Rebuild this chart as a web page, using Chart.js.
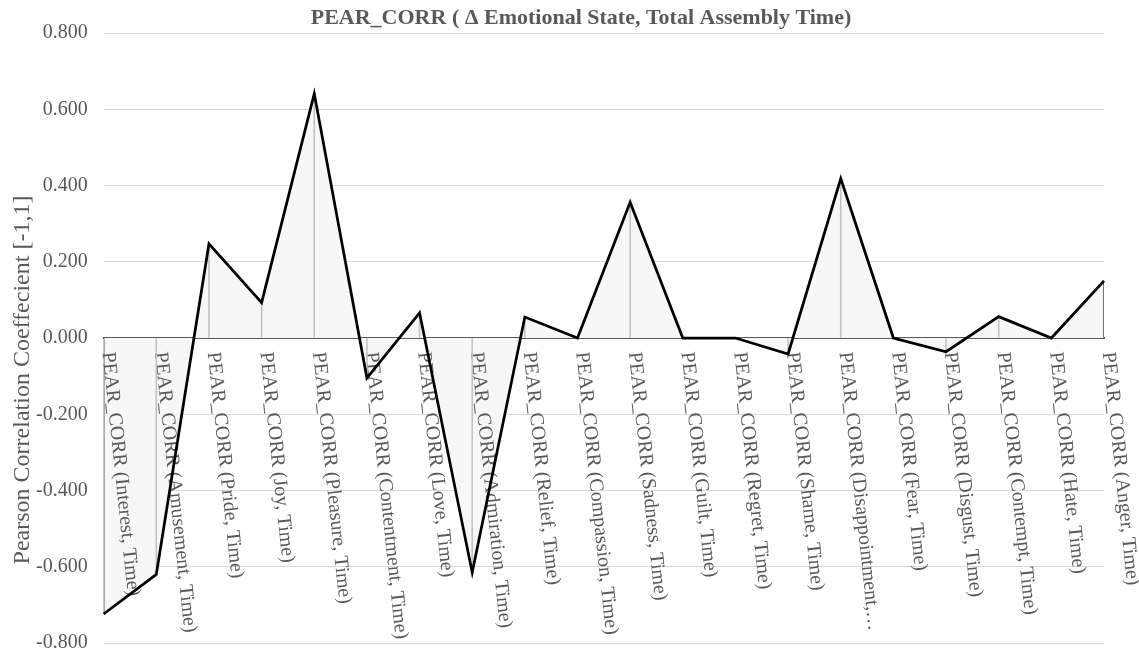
<!DOCTYPE html>
<html>
<head>
<meta charset="utf-8">
<script src="https://cdn.jsdelivr.net/npm/chart.js@4/dist/chart.umd.min.js"></script>
<style>
  html, body { margin: 0; padding: 0; background: #ffffff; }
  #wrap { width: 1139px; height: 654px; position: relative; }
</style>
</head>
<body>
<div id="wrap"><canvas id="c" width="1139" height="654"></canvas></div>
<script>
// ---- data ----
const chartTitle = 'PEAR_CORR ( \u0394 Emotional State, Total Assembly Time)';
const yAxisTitle = 'Pearson Correlation Coeffecient [-1,1]';
const categories = [
  'PEAR_CORR (Interest, Time)',
  'PEAR_CORR (Amusement, Time)',
  'PEAR_CORR (Pride, Time)',
  'PEAR_CORR (Joy, Time)',
  'PEAR_CORR (Pleasure, Time)',
  'PEAR_CORR (Contentment, Time)',
  'PEAR_CORR (Love, Time)',
  'PEAR_CORR (Admiration, Time)',
  'PEAR_CORR (Relief, Time)',
  'PEAR_CORR (Compassion, Time)',
  'PEAR_CORR (Sadness, Time)',
  'PEAR_CORR (Guilt, Time)',
  'PEAR_CORR (Regret, Time)',
  'PEAR_CORR (Shame, Time)',
  'PEAR_CORR (Disappointment,\u2026',
  'PEAR_CORR (Fear, Time)',
  'PEAR_CORR (Disgust, Time)',
  'PEAR_CORR (Contempt, Time)',
  'PEAR_CORR (Hate, Time)',
  'PEAR_CORR (Anger, Time)'
];
const correlation = [
  -0.724, -0.620, 0.247, 0.093, 0.641, -0.105, 0.066, -0.615, 0.055, 0.000,
  0.356, 0.000, 0.000, -0.042, 0.418, 0.000, -0.036, 0.056, 0.000, 0.150
];
const yMin = -0.8, yMax = 0.8, yStep = 0.2;

// ---- styles ----
const FONT = '"Liberation Serif", "Times New Roman", serif';
const TEXT = '#595959';

const decorPlugin = {
  id: 'decor',
  beforeDatasetsDraw(chart) {
    const { ctx, scales: { x, y } } = chart;
    const y0 = y.getPixelForValue(0);
    ctx.save();
    ctx.font = '20px ' + FONT;
    ctx.fillStyle = TEXT;
    ctx.textAlign = 'left';
    ctx.textBaseline = 'middle';
    categories.forEach((label, i) => {
      const px = x.getPixelForValue(i);
      ctx.save();
      ctx.translate(px + 4, y0 + 14);
      ctx.rotate(84 * Math.PI / 180);
      ctx.fillText(label, 0, 0);
      ctx.restore();
    });
    ctx.restore();
  },
  afterDraw(chart) {
    const { ctx } = chart;
    ctx.save();
    ctx.fillStyle = TEXT;
    ctx.textAlign = 'center';
    ctx.textBaseline = 'middle';
    ctx.font = 'bold 22px ' + FONT;
    ctx.fillText(chartTitle, 581, 18);
    ctx.translate(23, 380);
    ctx.rotate(-Math.PI / 2);
    ctx.font = '24px ' + FONT;
    ctx.fillText(yAxisTitle, 0, 0);
    ctx.restore();
  }
};

new Chart(document.getElementById('c'), {
  type: 'line',
  data: {
    labels: categories,
    datasets: [
      {
        type: 'line',
        label: 'PEAR_CORR',
        data: correlation,
        borderColor: '#000000',
        borderWidth: 2.75,
        backgroundColor: '#f7f7f7',
        fill: 'origin',
        tension: 0,
        pointRadius: 0,
        order: 0
      },
      {
        type: 'bar',
        label: 'drop',
        data: correlation,
        backgroundColor: (c) => (c.dataIndex === 0 || c.dataIndex === categories.length - 1) ? '#595959' : '#c4c4c4',
        barThickness: 1,
        order: 1
      }
    ]
  },
  options: {
    responsive: false,
    animation: false,
    devicePixelRatio: 1,
    layout: { padding: { top: 33, left: 20, right: 35, bottom: 11 } },
    plugins: {
      legend: { display: false },
      title: { display: false },
      tooltip: { enabled: false },
      filler: { drawTime: 'beforeDatasetsDraw' }
    },
    scales: {
      x: {
        type: 'category',
        position: { y: 0 },
        offset: false,
        z: 1,
        grid: { display: false, offset: false, drawTicks: false, tickLength: 0 },
        border: { display: true, color: '#595959', width: 2 },
        ticks: { display: false }
      },
      y: {
        min: yMin,
        max: yMax,
        grid: { color: '#d9d9d9', lineWidth: 1, drawTicks: false },
        border: { display: false },
        afterFit: (scale) => { scale.paddingTop = 12; scale.paddingBottom = 11; },
        ticks: {
          stepSize: yStep,
          padding: 16,
          color: TEXT,
          font: { family: FONT, size: 20 },
          callback: (v) => Math.abs(v) < 1e-9 ? '0.000' : Number(v).toFixed(3)
        }
      }
    }
  },
  plugins: [decorPlugin]
});
</script>
</body>
</html>
